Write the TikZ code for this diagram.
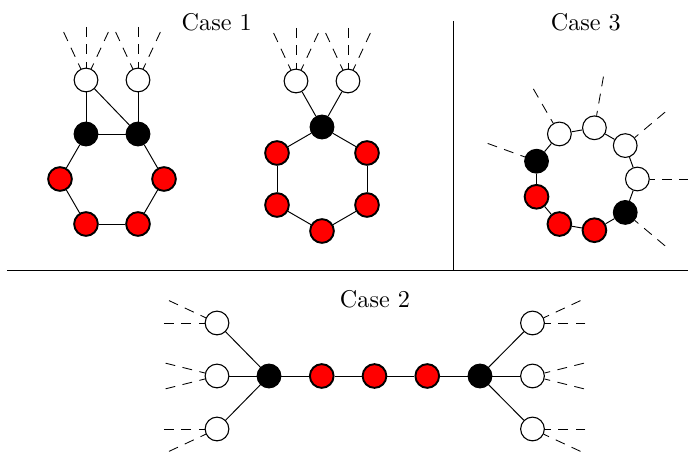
\documentclass[tikz,border=0pt]{standalone}
\usetikzlibrary{calc}
\begin{document}
\begin{tikzpicture}[x=0.41322pt,y=-0.41322pt,
  vtx/.style={circle,inner sep=0pt,minimum size=9.8pt,line width=0.45pt,draw=black},
  wv/.style={vtx,fill=white},
  bv/.style={vtx,fill=black},
  rv/.style={vtx,fill=red,line width=0.8pt},
  edge/.style={line width=0.4pt},
  half/.style={line width=0.35pt,dash pattern=on 4.1pt off 3.1pt},
  sep/.style={line width=0.6pt},
  lbl/.style={anchor=base,inner sep=0pt,font=\normalsize}]
\useasboundingbox (0,0) rectangle (688,453);

% separators
\coordinate (h1) at (7,270.5);
\coordinate (h2) at (688,270.5);
\coordinate (v1) at (453.5,21);
\coordinate (v2) at (453.5,270.5);
\draw[sep] (h1) -- (h2);
\draw[sep] (v1) -- (v2);

% labels
\node[lbl] (t1) at (216.7,30.5) {Case 1};
\node[lbl] (t3) at (585.8,31) {Case 3};
\node[lbl] (t2) at (375,308) {Case 2};

% ---------------- Case 1, left
\node[wv] (awA) at (86,80) {};
\node[wv] (awB) at (138,80) {};
\node[bv] (abA) at (86,134) {};
\node[bv] (abB) at (138,134) {};
\node[rv] (arL) at (60,179) {};
\node[rv] (arR) at (164,179) {};
\node[rv] (arBL) at (86,224) {};
\node[rv] (arBR) at (138,224) {};
\draw[edge] (awA) -- (abA);
\draw[edge] (awB) -- (abB);
\draw[edge] (awA) -- (abB);
\draw[edge] (abA) -- (abB);
\draw[edge] (abA) -- (arL);
\draw[edge] (arL) -- (arBL);
\draw[edge] (arBL) -- (arBR);
\draw[edge] (arBR) -- (arR);
\draw[edge] (arR) -- (abB);

% ---------------- Case 1, right
\node[wv] (bwA) at (296,81) {};
\node[wv] (bwB) at (348,81) {};
\node[bv] (bb) at (322,127) {};
\node[rv] (br1) at (277,153) {};
\node[rv] (br2) at (277,205) {};
\node[rv] (br3) at (322,231) {};
\node[rv] (br4) at (367,205) {};
\node[rv] (br5) at (367,153) {};
\draw[edge] (bwA) -- (bb);
\draw[edge] (bwB) -- (bb);
\draw[edge] (bb) -- (br1);
\draw[edge] (br1) -- (br2);
\draw[edge] (br2) -- (br3);
\draw[edge] (br3) -- (br4);
\draw[edge] (br4) -- (br5);
\draw[edge] (br5) -- (bb);

% half-edges of Case 1
\foreach \n in {awA,awB,bwA,bwB}{
  \foreach \a [count=\i] in {115,90,65}{
    \coordinate (\n d\i) at ($(\n)+(-\a:53)$);
    \draw[half] (\n d\i) -- (\n);
  }
}

% ---------------- Case 2
\node[wv] (cwL1) at (217,323) {};
\node[wv] (cwL2) at (217,376) {};
\node[wv] (cwL3) at (217,429) {};
\node[bv] (cbL) at (269,376) {};
\node[rv] (cr1) at (321.75,376) {};
\node[rv] (cr2) at (374.5,376) {};
\node[rv] (cr3) at (427.25,376) {};
\node[bv] (cbR) at (480,376) {};
\node[wv] (cwR1) at (532.5,323) {};
\node[wv] (cwR2) at (532.5,376) {};
\node[wv] (cwR3) at (532.5,429) {};
\draw[edge] (cwL1) -- (cbL);
\draw[edge] (cwL2) -- (cbL);
\draw[edge] (cwL3) -- (cbL);
\draw[edge] (cbL) -- (cr1);
\draw[edge] (cr1) -- (cr2);
\draw[edge] (cr2) -- (cr3);
\draw[edge] (cr3) -- (cbR);
\draw[edge] (cbR) -- (cwR1);
\draw[edge] (cbR) -- (cwR2);
\draw[edge] (cbR) -- (cwR3);
\foreach \n/\a/\k in {cwL1/180/1,cwL1/155/2,cwL2/166/1,cwL2/194/2,cwL3/180/1,cwL3/205/2,
                      cwR1/0/1,cwR1/25/2,cwR2/14/1,cwR2/-14/2,cwR3/0/1,cwR3/-25/2}{
  \coordinate (\n d\k) at ($(\n)+(-\a:53)$);
  \draw[half] (\n d\k) -- (\n);
}

% ---------------- Case 3
\coordinate (c3c) at (585.4,179);
\foreach \s/\a [count=\i] in {wv/0,wv/40,wv/80,wv/120,bv/160,rv/200,rv/240,rv/280,bv/320}{
  \node[\s] (d\i) at ($(c3c)+(-\a:52)$) {};
}
\foreach \i/\j in {1/2,2/3,3/4,4/5,5/6,6/7,7/8,8/9,9/1}{
  \draw[edge] (d\i) -- (d\j);
}
\foreach \i/\a in {1/0,2/40,3/80,4/120,5/160,9/320}{
  \coordinate (d\i e) at ($(c3c)+(-\a:104)$);
  \draw[half] (d\i e) -- (d\i);
}
\end{tikzpicture}
\end{document}
